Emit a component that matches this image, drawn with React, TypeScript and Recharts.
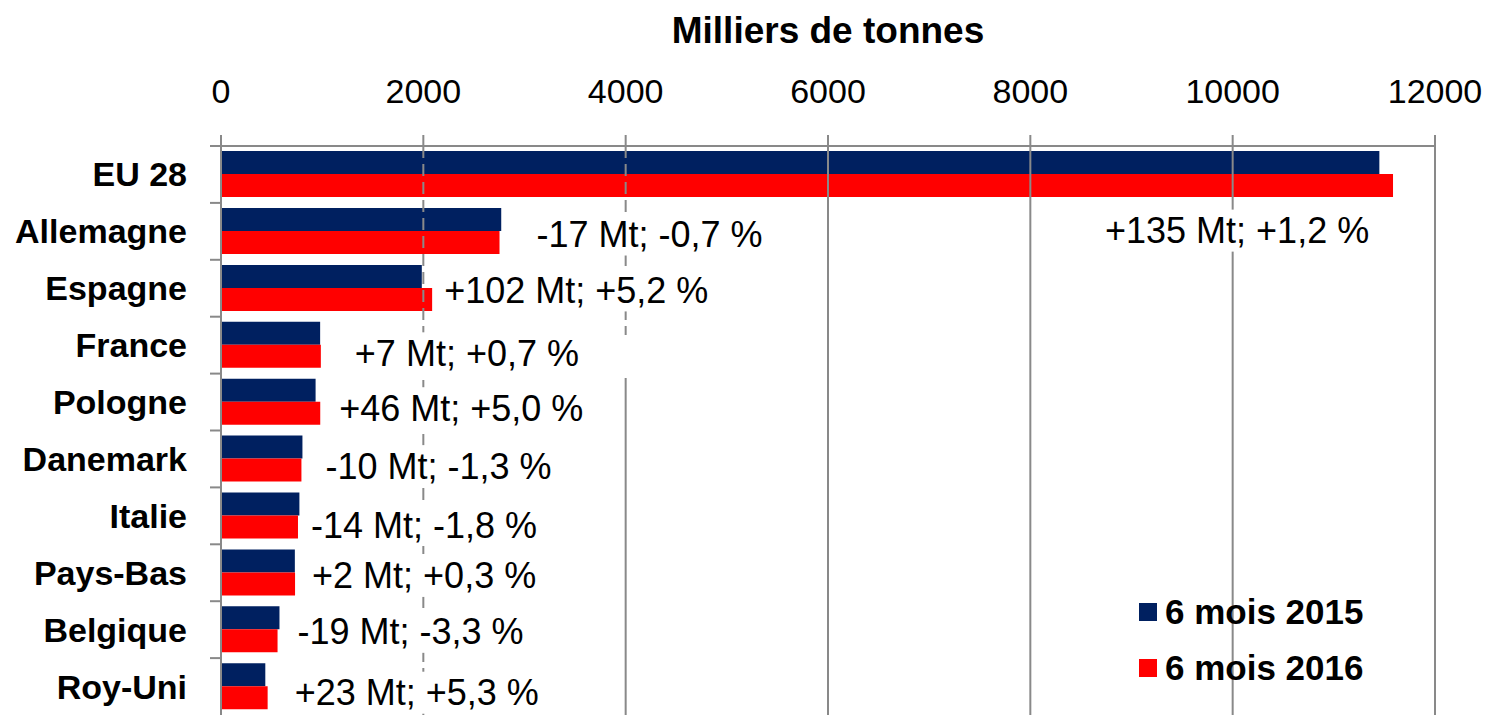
import React from 'react';
import { BarChart, Bar, XAxis, YAxis, ReferenceLine, Legend, LabelList } from 'recharts';

const countries = ['EU 28', 'Allemagne', 'Espagne', 'France', 'Pologne', 'Danemark', 'Italie', 'Pays-Bas', 'Belgique', 'Roy-Uni'];
const sixMonths2015 = [11450, 2770, 1985, 980, 935, 805, 775, 730, 578, 438];
const sixMonths2016 = [11585, 2753, 2087, 987, 981, 795, 761, 732, 559, 461];
const changeLabels = [
  '+135 Mt; +1,2 %',
  '-17 Mt; -0,7 %',
  '+102 Mt; +5,2 %',
  '+7 Mt; +0,7 %',
  '+46 Mt; +5,0 %',
  '-10 Mt; -1,3 %',
  '-14 Mt; -1,8 %',
  '+2 Mt; +0,3 %',
  '-19 Mt; -3,3 %',
  '+23 Mt; +5,3 %',
];
const xTicks = [0, 2000, 4000, 6000, 8000, 10000, 12000];

const data = countries.map((name, i) => ({
  name,
  y2015: sixMonths2015[i],
  y2016: sixMonths2016[i],
}));

// hand-placed labels (as in the source): [dx from end of red bar, dy from its centre]
const LABEL_NUDGE = [
  [-288, 45], [37, -8], [12, -9], [34, -3], [19, -5],
  [24, -4], [13, -2], [17, -8], [20, -9], [27, -5],
];

const NAVY = '#002060';
const RED = '#FF0000';
const GRID = '#898989';
const FONT = '"Liberation Sans", Arial, sans-serif';

const CategoryTick = (props: any) => {
  const { x, y, payload } = props;
  const half = payload?.offset || 28.45;
  return (
    <g>
      <line x1={x + 23} x2={x + 34} y1={y - half} y2={y - half} stroke={GRID} strokeWidth={2} />
      <text x={x} y={y} textAnchor="end" dominantBaseline="central" fontSize={34} fontWeight="bold" fill="#000">
        {payload.value}
      </text>
    </g>
  );
};

const ChangeLabel = (props: any) => {
  const { x, y, width, height, index } = props;
  const [dx, dy] = LABEL_NUDGE[index];
  const text = changeLabels[index];
  const tx = Number(x) + Number(width) + dx;
  const ty = Number(y) + Number(height) / 2 + dy;
  const w = text.length * 36 * 0.54;
  return (
    <g>
      <rect x={tx - 4} y={ty - 21} width={w + 8} height={42} fill="#fff" />
      <text x={tx} y={ty} dominantBaseline="central" fontSize={36} fill="#000">
        {text}
      </text>
    </g>
  );
};

// the 4000 gridline is dashed at the top and broken behind the France label
const Line4000 = (props: any) => {
  const { x1, y1, y2 } = props;
  return (
    <g>
      <line x1={x1} x2={x1} y1={y1} y2={335} stroke={GRID} strokeWidth={2} strokeDasharray="12 6" />
      <line x1={x1} x2={x1} y1={378} y2={y2} stroke={GRID} strokeWidth={2} />
    </g>
  );
};

const renderLegend = (props: any) => {
  const { payload } = props;
  return (
    <div>
      {(payload || []).map((entry: any) => (
        <div key={entry.value} style={{ display: 'flex', alignItems: 'center', height: 56 }}>
          <span style={{ width: 18, height: 18, background: entry.color, display: 'inline-block', marginRight: 8 }} />
          <span style={{ fontSize: 35, fontWeight: 'bold', color: '#000', lineHeight: '56px' }}>{entry.value}</span>
        </div>
      ))}
    </div>
  );
};

export default function App() {
  return (
    <div style={{ position: 'absolute', left: 0, top: 0, fontFamily: FONT, background: '#fff' }}>
      <BarChart
        width={1492}
        height={715}
        data={data}
        layout="vertical"
        margin={{ top: 0, right: 57, bottom: 0, left: 0 }}
        barCategoryGap="9%"
        barGap={0}
      >
        <XAxis
          type="number"
          orientation="top"
          domain={[0, 12000]}
          ticks={xTicks}
          interval={0}
          height={146}
          tickSize={11}
          tickMargin={32}
          axisLine={{ stroke: GRID, strokeWidth: 2 }}
          tickLine={{ stroke: GRID, strokeWidth: 2 }}
          tick={{ fill: '#000', fontSize: 34 }}
          label={{ value: 'Milliers de tonnes', position: 'insideTop', offset: 17, fill: '#000', fontSize: 37, fontWeight: 'bold' }}
        />
        <YAxis
          type="category"
          dataKey="name"
          width={221}
          tickSize={0}
          tickMargin={34}
          interval={0}
          axisLine={{ stroke: GRID, strokeWidth: 2 }}
          tickLine={false}
          tick={<CategoryTick />}
        />
        <ReferenceLine x={2000} stroke={GRID} strokeWidth={2} strokeDasharray="12 6" />
        <ReferenceLine x={4000} stroke={GRID} strokeWidth={2} shape={<Line4000 />} />
        <ReferenceLine x={6000} stroke={GRID} strokeWidth={2} />
        <ReferenceLine x={8000} stroke={GRID} strokeWidth={2} />
        <ReferenceLine x={10000} stroke={GRID} strokeWidth={2} />
        <ReferenceLine x={12000} stroke={GRID} strokeWidth={2} />
        <Legend
          layout="horizontal"
          verticalAlign="middle"
          align="center"
          wrapperStyle={{ left: 1139, top: 584, width: 300 }}
          content={renderLegend}
        />
        <Bar dataKey="y2015" name="6 mois 2015" fill={NAVY} isAnimationActive={false} />
        <Bar dataKey="y2016" name="6 mois 2016" fill={RED} isAnimationActive={false}>
          <LabelList dataKey="y2016" content={<ChangeLabel />} />
        </Bar>
      </BarChart>
    </div>
  );
}
